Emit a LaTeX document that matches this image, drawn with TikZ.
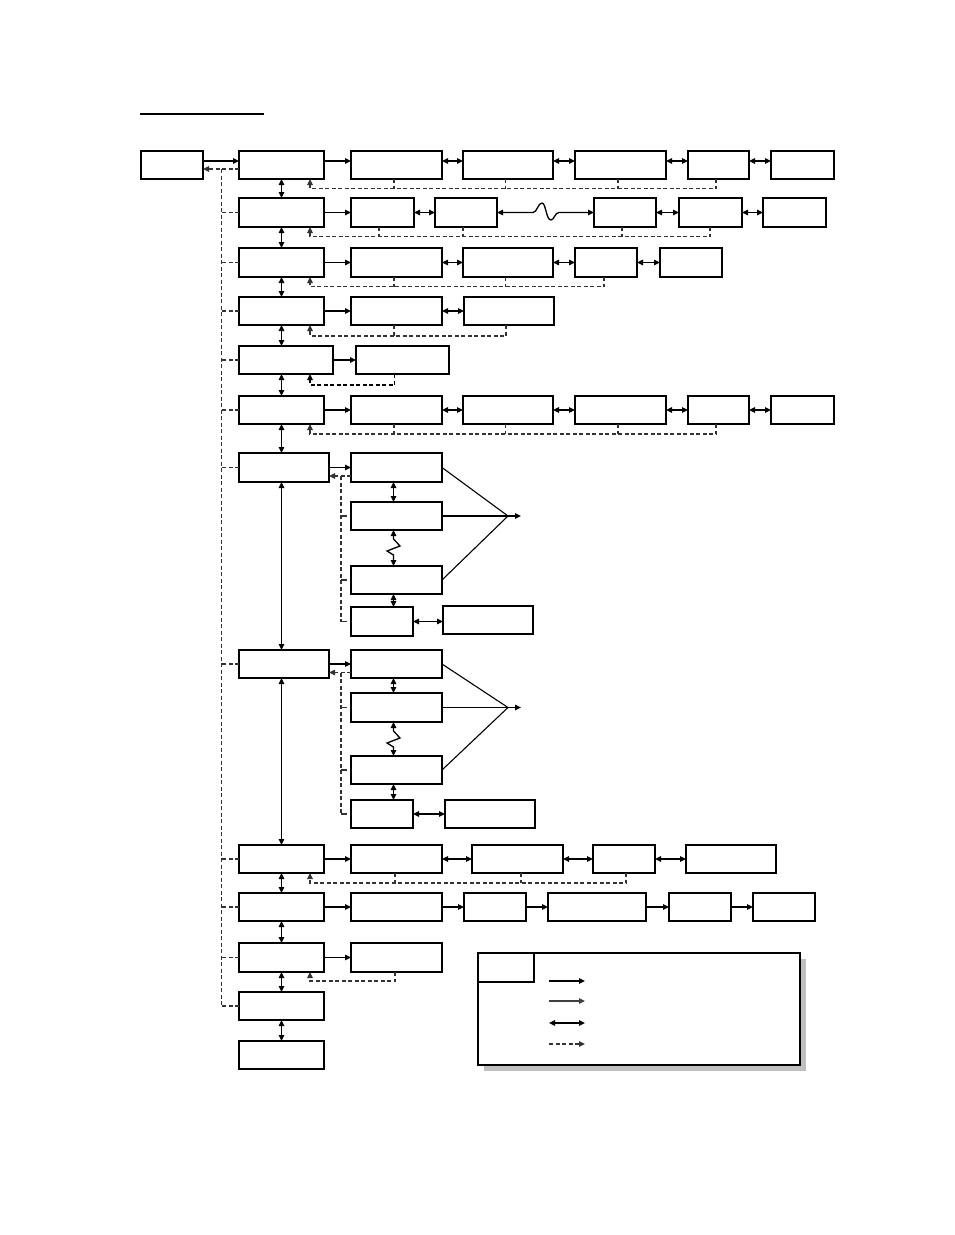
\documentclass[tikz,border=0pt]{standalone}
\usetikzlibrary{arrows.meta,calc,shadows}
\newcommand{\bxx}[6][]{\node[box,anchor=north west,minimum width=#5pt-#3pt,minimum height=#6pt-#4pt,#1] (#2) at (#3,#4) {};}
\newcommand{\sideS}[1]{\draw[thk] (#1.south west) -- (#1.south east);}
\newcommand{\sideN}[1]{\draw[thk] (#1.north west) -- (#1.north east);}
\newcommand{\sideW}[1]{\draw[thk] (#1.north west) -- (#1.south west);}
\newcommand{\sideE}[1]{\draw[thk] (#1.north east) -- (#1.south east);}
\begin{document}
\begin{tikzpicture}[x=1pt,y=-1pt,
  box/.style={draw,line width=1.2pt,inner sep=0pt,outer sep=0pt,fill=white},
  thk/.style={line width=2.3pt},
  arr/.style={line width=1.3pt,-{Triangle[length=6pt,width=5.5pt]}},
  dbl/.style={line width=1.3pt,{Triangle[length=6pt,width=5.5pt]}-{Triangle[length=6pt,width=5.5pt]}},
  dsh/.style={line width=1.2pt,black!80,dash pattern=on 4pt off 2.5pt},
  ret/.style={dsh,-{Triangle[length=6pt,width=5.5pt]}},
  tickln/.style={line width=1.2pt,black!80,dash pattern=on 6pt off 4pt},
  fan/.style={line width=1.1pt},
]
\fill[white] (0,0) rectangle (954,1235);
\useasboundingbox (0,0) rectangle (954,1235);

% title underline
\draw[line width=1.8pt] (140,114) -- (264,114);

% ---------- boxes ----------
\bxx{a0}{141}{151}{203}{179}
\bxx{m1}{239}{151}{324}{179}
\bxx{m2}{239}{198}{324}{227}
\bxx{m3}{239}{248}{324}{277}
\bxx{m4}{239}{297}{324}{325}
\bxx{m5}{239}{346}{333}{374}
\bxx{m6}{239}{396}{324}{424}
\bxx{m7}{239}{453}{329}{482}
\bxx{m8}{239}{650}{329}{678}
\bxx{m9}{239}{845}{324}{873}
\bxx{m10}{239}{893}{324}{921}
\bxx{m11}{239}{943}{324}{972}
\bxx{m12}{239}{992}{324}{1020}
\bxx{m13}{239}{1041}{324}{1069}

% row 1
\bxx{r1b1}{351}{151}{442}{179}
\bxx{r1b2}{463}{151}{553}{179}
\bxx{r1b3}{575}{151}{666}{179}
\bxx{r1b4}{688}{151}{749}{179}
\bxx{r1b5}{771}{151}{834}{179}
% row 2
\bxx{r2b1}{351}{198}{414}{227}
\bxx{r2b2}{435}{198}{497}{227}
\bxx{r2b3}{594}{198}{656}{227}
\bxx{r2b4}{679}{198}{742}{227}
\bxx{r2b5}{763}{198}{826}{227}
% row 3
\bxx{r3b1}{351}{248}{442}{277}
\bxx{r3b2}{463}{248}{553}{277}
\bxx{r3b3}{575}{248}{637}{277}
\bxx{r3b4}{660}{248}{722}{277}
% row 4
\bxx{r4b1}{351}{297}{442}{325}
\bxx{r4b2}{464}{297}{554}{325}
% row 5
\bxx{r5b1}{356}{346}{449}{374}
% row 6
\bxx{r6b1}{351}{396}{442}{424}
\bxx{r6b2}{463}{396}{553}{424}
\bxx{r6b3}{575}{396}{666}{424}
\bxx{r6b4}{688}{396}{749}{424}
\bxx{r6b5}{771}{396}{834}{424}
% row 7
\bxx{s71}{351}{453}{442}{482}
\bxx{s72}{351}{502}{442}{530}
\bxx{s73}{351}{566}{442}{594}
\bxx{s74}{351}{607}{413}{636}
\bxx{s75}{443}{606}{533}{634}
% row 8
\bxx{s81}{351}{650}{442}{678}
\bxx{s82}{351}{693}{442}{722}
\bxx{s83}{351}{756}{442}{784}
\bxx{s84}{351}{800}{413}{828}
\bxx{s85}{445}{800}{535}{828}
% row 9
\bxx{r9b1}{351}{845}{442}{873}
\bxx{r9b2}{472}{845}{563}{873}
\bxx{r9b3}{593}{845}{655}{873}
\bxx{r9b4}{686}{845}{776}{873}
% row 10
\bxx{r10b1}{351}{893}{442}{921}
\bxx{r10b2}{464}{893}{526}{921}
\bxx{r10b3}{548}{893}{646}{921}
\bxx{r10b4}{669}{893}{731}{921}
\bxx{r10b5}{753}{893}{815}{921}
% row 11
\bxx{r11b1}{351}{943}{442}{972}

% thicker sides
\sideW{a0} \sideS{m3} \sideS{r2b4} \sideN{r2b5} \sideS{r2b5}
\sideS{r3b2} \sideW{r3b4} \sideS{r3b4} \sideW{r5b1} \sideE{r6b5}
\sideE{m7} \sideN{s72} \sideS{s72} \sideN{s73} \sideS{s73} \sideS{s74}
\sideE{m8} \sideS{s82} \sideW{s85} \sideE{r9b4} \sideE{r10b3} \sideS{m12}

% helper coordinates
\coordinate (rx) at (310,0);
\coordinate (sp) at (221.5,169);

% ---------- top entry ----------
\draw[arr] ([yshift=4pt]a0.east) -- ([yshift=4pt]m1.west);
\draw[ret] ([yshift=-4pt]m1.west) -- ([yshift=-4pt]a0.east);

% ---------- left spine ----------
\draw[dsh] (sp) -- (sp |- m12.west);
\foreach \m in {m2,m3,m4,m5,m6,m7,m8,m9,m10,m11,m12}
  \draw[dsh] (\m.west) -- (\m.west -| sp);

% ---------- main column ----------
\draw[dbl] (m1.south) -- (m2.north);
\draw[dbl] (m2.south) -- (m3.north);
\draw[dbl] (m3.south) -- (m4.north);
\draw[dbl] (m4.south) -- (m4.south |- m5.north);
\draw[dbl] (m5.south -| m6.north) -- (m6.north);
\draw[dbl] (m6.south) -- (m6.south |- m7.north);
\draw[dbl] (m7.south -| m6.south) -- (m6.south |- m8.north);
\draw[dbl] (m8.south -| m9.north) -- (m9.north);
\draw[dbl] (m9.south) -- (m10.north);
\draw[dbl] (m10.south) -- (m11.north);
\draw[dbl] (m11.south) -- (m12.north);
\draw[dbl] (m12.south) -- (m13.north);

% ---------- row 1 ----------
\draw[arr] ([yshift=4pt]m1.east) -- ([yshift=4pt]r1b1.west);
\draw[dbl] ([yshift=4pt]r1b1.east) -- ([yshift=4pt]r1b2.west);
\draw[dbl] ([yshift=4pt]r1b2.east) -- ([yshift=4pt]r1b3.west);
\draw[dbl] ([yshift=4pt]r1b3.east) -- ([yshift=4pt]r1b4.west);
\draw[dbl] ([yshift=4pt]r1b4.east) -- ([yshift=4pt]r1b5.west);
\draw[ret] ([xshift=-2.5pt]r1b4.south) -- ++(0,9.5) -| (m1.south -| rx);
\foreach \b in {r1b1,r1b2,r1b3} \draw[dsh] ([xshift=-2.5pt]\b.south) -- ++(0,9.5);

% ---------- row 2 ----------
\draw[arr] (m2.east) -- (r2b1.west);
\draw[dbl] (r2b1.east) -- (r2b2.west);
\draw[dbl] (r2b2.east) -- (533,212.5) .. controls (537,212.5) and (538,203) .. (542,203)
  .. controls (546,203) and (546,220) .. (551,220)
  .. controls (554,220) and (555,212.5) .. (559,212.5) -- (r2b3.west);
\draw[dbl] (r2b3.east) -- (r2b4.west);
\draw[dbl] (r2b4.east) -- (r2b5.west);
\draw[ret] ([xshift=-0.5pt]r2b4.south) -- ++(0,9.5) -| (m2.south -| rx);
\draw[dsh] ([xshift=-3.5pt]r2b1.south) -- ++(0,9.5);
\draw[dsh] ([xshift=-3pt]r2b2.south) -- ++(0,9.5);
\draw[dsh] ([xshift=-3pt]r2b3.south) -- ++(0,9.5);

% ---------- row 3 ----------
\draw[arr] (m3.east) -- (r3b1.west);
\draw[dbl] (r3b1.east) -- (r3b2.west);
\draw[dbl] (r3b2.east) -- (r3b3.west);
\draw[dbl] (r3b3.east) -- (r3b4.west);
\draw[ret] ([xshift=-2pt]r3b3.south) -- ++(0,9.5) -| (m3.south -| rx);
\draw[dsh] ([xshift=-2.5pt]r3b1.south) -- ++(0,9.5);
\draw[dsh] ([xshift=-2.5pt]r3b2.south) -- ++(0,9.5);

% ---------- row 4 ----------
\draw[arr] (m4.east) -- (r4b1.west);
\draw[dbl] (r4b1.east) -- (r4b2.west);
\draw[ret] ([xshift=-3pt]r4b2.south) -- ++(0,11) -| (m4.south -| rx);
\draw[dsh] ([xshift=-2.5pt]r4b1.south) -- ++(0,11);

% ---------- row 5 ----------
\draw[arr] (m5.east) -- (r5b1.west);
\draw[ret,black,line width=1.5pt] ([xshift=-8pt]r5b1.south) -- ++(0,11) -| (m5.south -| rx);

% ---------- row 6 ----------
\draw[arr] (m6.east) -- (r6b1.west);
\draw[dbl] (r6b1.east) -- (r6b2.west);
\draw[dbl] (r6b2.east) -- (r6b3.west);
\draw[dbl] (r6b3.east) -- (r6b4.west);
\draw[dbl] (r6b4.east) -- (r6b5.west);
\draw[ret] ([xshift=-2.5pt]r6b4.south) -- ++(0,10) -| (m6.south -| rx);
\foreach \b in {r6b1,r6b2,r6b3} \draw[dsh] ([xshift=-2.5pt]\b.south) -- ++(0,10);

% ---------- row 7 ----------
\draw[arr] (m7.east) -- (s71.west);
\draw[ret] ([yshift=-8.5pt]s71.west) -- ([yshift=-8.5pt]s71.west -| m7.east);
\coordinate (v7) at ($([yshift=-8.5pt]s71.west)+(-10,0)$);
\draw[dsh] (v7) -- (v7 |- s74.west);
\foreach \b in {s72,s73,s74} \draw[tickln] (v7 |- \b.west) -- (\b.west);
\draw[dbl] ([xshift=-3pt]s71.south) -- ([xshift=-3pt]s72.north);
\draw[dbl] ([xshift=-3pt]s72.south) -- ++(0,9) -- ++(6.5,7) -- ++(-13,5) -- ++(6.5,4) -- ([xshift=-3pt]s73.north);
\draw[dbl] ([xshift=-3pt]s73.south) -- ([xshift=-3pt]s73.south |- s74.north);
\draw[dbl] (s74.east) -- (s74.east -| s75.west);
\coordinate (f7) at ($(s72.east)+(66,0)$);
\coordinate (f7e) at ($(f7)+(13,0)$);
\draw[fan] (s71.east) -- (f7);
\draw[fan] (s73.east) -- (f7);
\draw[arr] (s72.east) -- (f7e);

% ---------- row 8 ----------
\draw[arr] (m8.east) -- (s81.west);
\draw[ret] ([yshift=-8.5pt]s81.west) -- ([yshift=-8.5pt]s81.west -| m8.east);
\coordinate (v8) at ($([yshift=-8.5pt]s81.west)+(-10,0)$);
\draw[dsh] (v8) -- (v8 |- s84.west);
\foreach \b in {s82,s83,s84} \draw[tickln] (v8 |- \b.west) -- (\b.west);
\draw[dbl] ([xshift=-3pt]s81.south) -- ([xshift=-3pt]s82.north);
\draw[dbl] ([xshift=-3pt]s82.south) -- ++(0,9) -- ++(6.5,7) -- ++(-13,5) -- ++(6.5,4) -- ([xshift=-3pt]s83.north);
\draw[dbl] ([xshift=-3pt]s83.south) -- ([xshift=-3pt]s83.south |- s84.north);
\draw[dbl] (s84.east) -- (s84.east -| s85.west);
\coordinate (f8) at ($(s82.east)+(66,0)$);
\coordinate (f8e) at ($(f8)+(13,0)$);
\draw[fan] (s81.east) -- (f8);
\draw[fan] (s83.east) -- (f8);
\draw[arr] (s82.east) -- (f8e);

% ---------- row 9 ----------
\draw[arr] (m9.east) -- (r9b1.west);
\draw[dbl] (r9b1.east) -- (r9b2.west);
\draw[dbl] (r9b2.east) -- (r9b3.west);
\draw[dbl] (r9b3.east) -- (r9b4.west);
\draw[ret] ([xshift=2pt]r9b3.south) -- ++(0,10) -| (m9.south -| rx);
\draw[dsh] ([xshift=-1.5pt]r9b1.south) -- ++(0,10);
\draw[dsh] ([xshift=3.5pt]r9b2.south) -- ++(0,10);

% ---------- row 10 ----------
\draw[arr] (m10.east) -- (r10b1.west);
\draw[arr] (r10b1.east) -- (r10b2.west);
\draw[arr] (r10b2.east) -- (r10b3.west);
\draw[arr] (r10b3.east) -- (r10b4.west);
\draw[arr] (r10b4.east) -- (r10b5.west);

% ---------- row 11 ----------
\draw[arr] (m11.east) -- (r11b1.west);
\draw[ret] ([xshift=-1.5pt]r11b1.south) -- ++(0,9) -| (m11.south -| rx);

% ---------- legend ----------
\bxx[line width=2.3pt,drop shadow={fill=black!25,opacity=1,shadow xshift=6pt,shadow yshift=-6pt}]{lg}{478}{953}{800}{1065}
\bxx{lgs}{478}{953}{534}{982}
\coordinate (la1) at ($(lg.north west)+(71,28)$);
\coordinate (lb1) at ($(lg.north west)+(107,28)$);
\coordinate (la2) at ($(lg.north west)+(71,48)$);
\coordinate (lb2) at ($(lg.north west)+(107,48)$);
\coordinate (la3) at ($(lg.north west)+(71,70)$);
\coordinate (lb3) at ($(lg.north west)+(107,70)$);
\coordinate (la4) at ($(lg.north west)+(71,91)$);
\coordinate (lb4) at ($(lg.north west)+(107,91)$);
\draw[arr] (la1) -- (lb1);
\draw[arr,line width=1.7pt,black!75] (la2) -- (lb2);
\draw[dbl] (la3) -- (lb3);
\draw[ret] (la4) -- (lb4);
\end{tikzpicture}
\end{document}
